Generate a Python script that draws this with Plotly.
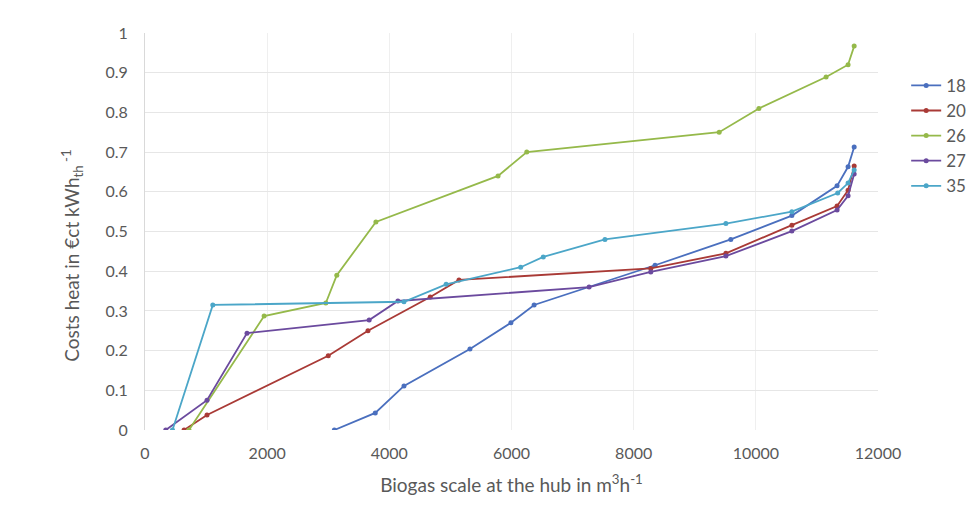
import plotly.graph_objects as go

names = ["18", "20", "26", "27", "35"]
colors = ["#4a6fbe", "#a93a36", "#95b94a", "#6b4a9e", "#4ba6c8"]

x18 = [3100, 3770, 4240, 5320, 5990, 6370, 8350, 9590, 10590, 11330, 11510, 11610]
y18 = [0, 0.043, 0.111, 0.204, 0.27, 0.315, 0.415, 0.48, 0.54, 0.615, 0.663, 0.713]

x20 = [640, 1015, 3000, 3650, 4670, 5140, 8280, 9510, 10590, 11330, 11510, 11610]
y20 = [0, 0.038, 0.187, 0.25, 0.335, 0.378, 0.407, 0.445, 0.516, 0.564, 0.604, 0.665]

x26 = [720, 1950, 2960, 3140, 3780, 5780, 6250, 9400, 10050, 11150, 11510, 11610]
y26 = [0, 0.287, 0.32, 0.39, 0.524, 0.64, 0.70, 0.75, 0.81, 0.889, 0.92, 0.967]

x27 = [340, 1015, 1670, 3670, 4140, 7270, 8280, 9510, 10590, 11330, 11510, 11610]
y27 = [0, 0.075, 0.244, 0.277, 0.325, 0.36, 0.398, 0.438, 0.501, 0.554, 0.59, 0.645]

x35 = [450, 1110, 4240, 4930, 6150, 6520, 7530, 9510, 10590, 11340, 11510, 11610]
y35 = [0, 0.315, 0.323, 0.367, 0.41, 0.436, 0.48, 0.52, 0.55, 0.597, 0.622, 0.655]

xs = [x18, x20, x26, x27, x35]
ys = [y18, y20, y26, y27, y35]

x_ticks = [0, 2000, 4000, 6000, 8000, 10000, 12000]
y_ticks = [0, 0.1, 0.2, 0.3, 0.4, 0.5, 0.6, 0.7, 0.8, 0.9, 1]
y_ticktext = ["0", "0.1", "0.2", "0.3", "0.4", "0.5", "0.6", "0.7", "0.8", "0.9", "1"]

x_title = "Biogas scale at the hub in m<sup>3</sup>h<sup>-1</sup>"
y_title = "Costs heat in €ct kWh<sub>th</sub><sup> -1</sup>"

FONT = "Lato, Open Sans, sans-serif"
GREY = "#595959"

fig = go.Figure()
for n, c, x, y in zip(names, colors, xs, ys):
    fig.add_trace(go.Scatter(
        x=x, y=y, name=n, mode="lines+markers",
        line=dict(color=c, width=1.8),
        marker=dict(color=c, size=5),
    ))

fig.add_annotation(
    text=y_title, textangle=-90, showarrow=False,
    xref="paper", yref="paper", x=-0.099, y=0.44,
    xanchor="center", yanchor="middle",
    font=dict(size=19, color=GREY, family=FONT),
)

fig.update_layout(
    width=971, height=503,
    paper_bgcolor="white", plot_bgcolor="white",
    margin=dict(l=137, r=101, t=25, b=81),
    font=dict(family=FONT, color=GREY, size=16),
    showlegend=True,
    legend=dict(
        xref="container", yref="container",
        x=0.925, y=0.881, xanchor="left", yanchor="top",
        font=dict(size=17, color=GREY),
        tracegroupgap=0, itemwidth=30,
        bgcolor="rgba(0,0,0,0)",
    ),
    xaxis=dict(
        range=[0, 12000], tickvals=x_ticks, ticktext=[str(v) for v in x_ticks],
        showgrid=True, gridcolor="#efefef", gridwidth=1,
        zeroline=False, showline=False, automargin=False,
        ticks="", ticklabelstandoff=12, tickfont=dict(size=16, color=GREY),
        title=dict(text=x_title, font=dict(size=19, color=GREY), standoff=17),
    ),
    yaxis=dict(
        range=[0, 1], tickvals=y_ticks, ticktext=y_ticktext,
        showgrid=True, gridcolor="#e6e6e6", gridwidth=1,
        zeroline=False, showline=True, linecolor="#d9d9d9", linewidth=1,
        automargin=False,
        ticks="", ticklabelstandoff=13, tickfont=dict(size=16, color=GREY),
    ),
)

fig.write_html("out.html")
